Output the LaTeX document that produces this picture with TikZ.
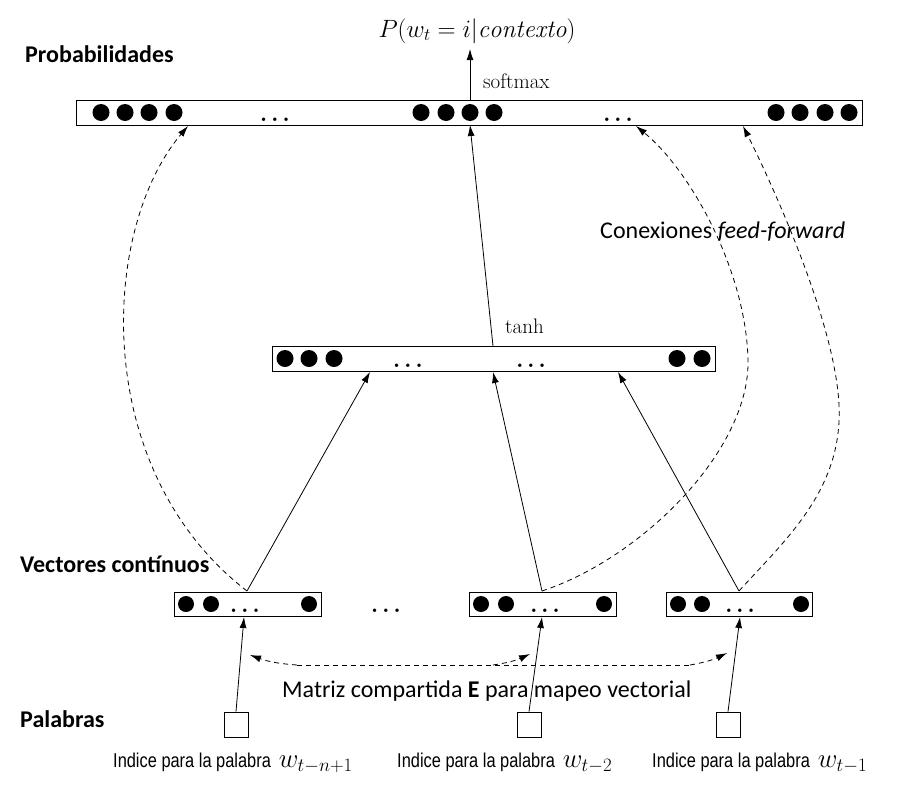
\RequirePackage{fix-cm}
\documentclass[tikz,border=0pt]{standalone}
\usepackage{fontspec}
\newfontfamily\carl{Carlito}
\newfontfamily\narr{Liberation Sans}[FakeStretch=0.82]
\usetikzlibrary{arrows.meta}
\begin{document}
\begin{tikzpicture}[x=1pt,y=-1pt,
  layerbox/.style={draw, line width=0.9pt, inner sep=0pt},
  wbox/.style={draw, line width=0.9pt, inner sep=0pt, minimum width=24pt, minimum height=25pt},
  neu/.style={fill=black},
  arr/.style={-{Latex[length=11pt,width=7pt]}, line width=0.8pt},
  darr/.style={arr, dash pattern=on 5pt off 4pt},
  dline/.style={line width=0.8pt, dash pattern=on 5pt off 4pt},
  lbltxt/.style={font=\carl\bfseries\fontsize{24}{28}\selectfont, anchor=base west, inner sep=0pt},
  notetxt/.style={font=\carl\fontsize{24}{28}\selectfont, anchor=base west, inner sep=0pt},
  idxtxt/.style={font=\narr\fontsize{20}{24}\selectfont, anchor=base west, inner sep=0pt},
  cmtxt/.style={font=\fontsize{21}{25}\selectfont, anchor=base west, inner sep=0pt},
  dottxt/.style={font=\fontsize{22}{26}\selectfont\boldmath, anchor=base, inner sep=0pt}
]
\useasboundingbox (0,0) rectangle (909,787);

% layers
\node[layerbox, minimum width=786pt, minimum height=25pt] (prob) at (469,112.5) {};
\node[layerbox, minimum width=443pt, minimum height=25pt] (hid) at (493.5,358.5) {};
\node[layerbox, minimum width=147pt, minimum height=24pt] (e1) at (247.5,604) {};
\node[layerbox, minimum width=147pt, minimum height=24pt] (e2) at (542.5,604) {};
\node[layerbox, minimum width=146pt, minimum height=24pt] (e3) at (739,604) {};

% neurons
\foreach \x in {101,125,149,174,421,446,470,494,776,800,825,849}
  \fill[neu] (\x,112.5) circle (8.5pt);
\foreach \x in {285,309,334,677,702}
  \fill[neu] (\x,358.5) circle (8.5pt);
\foreach \x in {186,211,309,481,506,604,678,702,801}
  \fill[neu] (\x,604) circle (8pt);

\node[dottxt] (pd1) at (275,121) {$\ldots$};
\node[dottxt] (pd2) at (618,121) {$\ldots$};
\node[dottxt] (hd1) at (408,367) {$\ldots$};
\node[dottxt] (hd2) at (531,367) {$\ldots$};
\node[dottxt] (ed1) at (245,612) {$\ldots$};
\node[dottxt] (ed2) at (545,612) {$\ldots$};
\node[dottxt] (ed3) at (740,612) {$\ldots$};
\node[dottxt] (edm) at (386,612) {$\ldots$};

% word index boxes
\node[wbox] (w1) at (236,724.5) {};
\node[wbox] (w2) at (529,724.5) {};
\node[wbox] (w3) at (728,724.5) {};

% labels
\node[lbltxt] (lp) at (25,62) {Probabilidades};
\node[lbltxt] (lv) at (20,572) {Vectores contínuos};
\node[lbltxt] (lw) at (20,727) {Palabras};
\node[notetxt] (lc) at (600,238) {Conexiones \textit{feed-forward}};
\node[notetxt] (lm) at (282,697) {Matriz compartida \textbf{E} para mapeo vectorial};
\node[idxtxt] (i1) at (113,767) {Indice para la palabra \,{\fontsize{27}{30}\selectfont$w_{t-n+1}$}};
\node[idxtxt] (i2) at (397,767) {Indice para la palabra \,{\fontsize{27}{30}\selectfont$w_{t-2}$}};
\node[idxtxt] (i3) at (652,767) {Indice para la palabra \,{\fontsize{27}{30}\selectfont$w_{t-1}$}};
\node[font=\fontsize{25}{30}\selectfont, anchor=base, inner sep=0pt] (out) at (477,37) {$P(w_t=i|\mathit{contexto})$};
\node[cmtxt] (sm) at (483,88) {softmax};
\node[cmtxt] (th) at (505,333) {tanh};

% coordinates
\coordinate (outb) at (470,49);
\coordinate (pt0) at (470,100);
\coordinate (pb0) at (470,125);
\coordinate (pb1) at (188,126);
\coordinate (pb2) at (636,126);
\coordinate (pb3) at (743,126);
\coordinate (ht0) at (493,346);
\coordinate (hb1) at (370,372);
\coordinate (hb2) at (493,372);
\coordinate (hb3) at (618,372);
\coordinate (et1) at (247,591);
\coordinate (et2) at (542,591);
\coordinate (et3) at (739,591);
\coordinate (eb1) at (244,617);
\coordinate (eb2) at (542,617);
\coordinate (eb3) at (740,617);
\coordinate (m0) at (297,665);
\coordinate (m1) at (493,665);
\coordinate (m2) at (690,665);
\coordinate (ma1) at (250,655);
\coordinate (ma2) at (530,654);
\coordinate (ma3) at (727,653);
\coordinate (f2) at (748,360);
\coordinate (f3) at (839,405);

% solid connectors
\draw[arr] (pt0) -- (outb);
\draw[arr] (ht0) -- (pb0);
\draw[arr] (et1) -- (hb1);
\draw[arr] (et2) -- (hb2);
\draw[arr] (et3) -- (hb3);
\draw[arr] (w1.north) -- (eb1);
\draw[arr] (w2.north) -- (eb2);
\draw[arr] (w3.north) -- (eb3);

% feed-forward dashed
\draw[darr] (et1) .. controls (90,470) and (100,230) .. (pb1);
\draw[darr] (et2) .. controls (642,558) and (750,450) .. (f2)
                  .. controls (746,270) and (690,170) .. (pb2);
\draw[darr] (et3) .. controls (785,540) and (843,490) .. (f3)
                  .. controls (835,320) and (770,180) .. (pb3);

% shared matrix dashed
\draw[dline] (m0) -- (m2);
\draw[darr] (m0) to[bend left=8] (ma1);
\draw[darr] (m1) to[bend right=8] (ma2);
\draw[darr] (m2) to[bend right=8] (ma3);
\end{tikzpicture}
\end{document}
